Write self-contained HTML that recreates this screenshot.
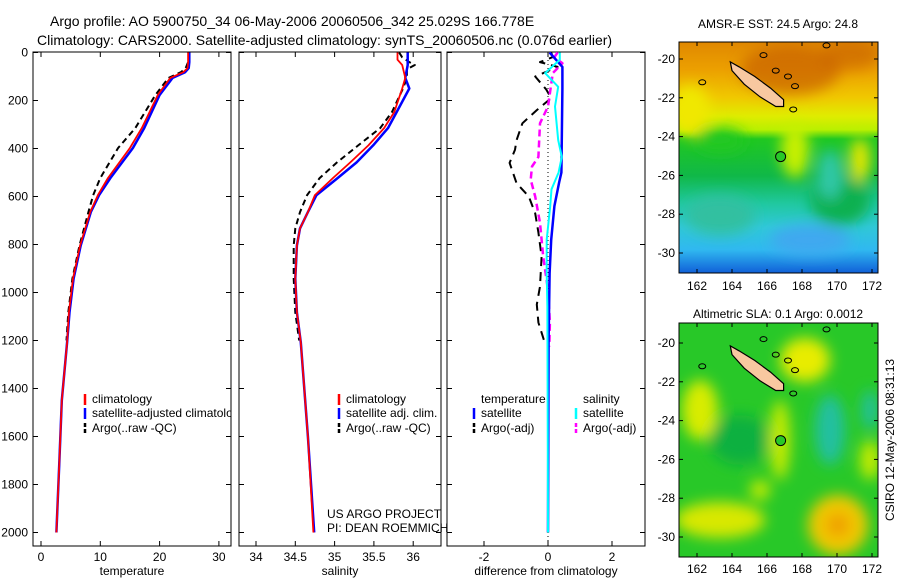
<!DOCTYPE html>
<html><head><meta charset="utf-8">
<style>
html,body{margin:0;padding:0;background:#fff;}
svg{display:block;font-family:"Liberation Sans",Arial,sans-serif;}
text{fill:#000;}
</style></head>
<body>
<svg id="chart" width="900" height="580" viewBox="0 0 900 580" xmlns="http://www.w3.org/2000/svg">
<defs>
 <clipPath id="c1"><rect x="33" y="52" width="198" height="494"/></clipPath>
 <clipPath id="c2"><rect x="239" y="52" width="202" height="494"/></clipPath>
 <clipPath id="c3"><rect x="447" y="52" width="198" height="494"/></clipPath>
 <clipPath id="m1"><rect x="679" y="42" width="199" height="231"/></clipPath>
 <clipPath id="m2"><rect x="679" y="323" width="199" height="234"/></clipPath>
 <filter id="blur" x="-50%" y="-50%" width="200%" height="200%"><feGaussianBlur stdDeviation="7"/></filter>
 <linearGradient id="sstg" x1="0" y1="0" x2="0" y2="1">
  <stop offset="0" stop-color="#e08800"/>
  <stop offset="0.12" stop-color="#eca000"/>
  <stop offset="0.24" stop-color="#f0c800"/>
  <stop offset="0.32" stop-color="#e0ec00"/>
  <stop offset="0.38" stop-color="#b8f000"/>
  <stop offset="0.42" stop-color="#20c820"/>
  <stop offset="0.58" stop-color="#10b848"/>
  <stop offset="0.7" stop-color="#20c8a0"/>
  <stop offset="0.8" stop-color="#30c8d8"/>
  <stop offset="0.9" stop-color="#30b8f0"/>
  <stop offset="1" stop-color="#1060d8"/>
 </linearGradient>
</defs>

<g>
 <text x="50" y="26" font-size="14">Argo profile: AO 5900750_34 06-May-2006 20060506_342 25.029S 166.778E</text>
 <text x="37" y="45" font-size="14">Climatology: CARS2000. Satellite-adjusted climatology: synTS_20060506.nc (0.076d earlier)</text>
</g>

<g id="axes"></g>
<g id="series"></g>

<g>
 <text x="778" y="28" font-size="12" text-anchor="middle">AMSR-E SST: 24.5 Argo: 24.8</text>
 <g clip-path="url(#m1)">
  <rect x="679" y="42" width="199" height="231" fill="url(#sstg)"/>
  <g filter="url(#blur)">
   <ellipse cx="790" cy="70" rx="50" ry="25" fill="#c86000" opacity="0.7"/>
   <ellipse cx="850" cy="55" rx="30" ry="15" fill="#c86000" opacity="0.6"/>
   <ellipse cx="690" cy="110" rx="20" ry="25" fill="#f0e800"/>
   <ellipse cx="795" cy="150" rx="14" ry="28" fill="#c8f000"/>
   <ellipse cx="860" cy="160" rx="10" ry="22" fill="#e8e800"/>
   <ellipse cx="720" cy="140" rx="25" ry="12" fill="#20c820"/>
   <ellipse cx="840" cy="200" rx="30" ry="25" fill="#10b050"/>
   <ellipse cx="720" cy="215" rx="35" ry="20" fill="#30c0a0"/>
   <ellipse cx="830" cy="175" rx="12" ry="25" fill="#30c8a8"/>
   <ellipse cx="810" cy="240" rx="40" ry="15" fill="#40a8f0"/>
  </g>
 </g>
 <rect x="679" y="42" width="199" height="231" fill="none" stroke="#000"/>
</g>

<g>
 <text x="778" y="318" font-size="12" text-anchor="middle">Altimetric SLA: 0.1 Argo: 0.0012</text>
 <g clip-path="url(#m2)">
  <rect x="679" y="323" width="199" height="234" fill="#28c828"/>
  <g filter="url(#blur)">
   <ellipse cx="805" cy="360" rx="25" ry="22" fill="#e8ec00"/>
   <ellipse cx="700" cy="410" rx="18" ry="30" fill="#d8ec00"/>
   <ellipse cx="780" cy="440" rx="10" ry="40" fill="#c8ec00"/>
   <ellipse cx="760" cy="490" rx="10" ry="10" fill="#c8ec00"/>
   <ellipse cx="720" cy="520" rx="45" ry="18" fill="#d8e800"/>
   <ellipse cx="838" cy="525" rx="30" ry="30" fill="#f0c800"/>
   <ellipse cx="838" cy="525" rx="12" ry="12" fill="#f0a000"/>
   <ellipse cx="830" cy="430" rx="15" ry="35" fill="#20c0a0"/>
   <ellipse cx="870" cy="410" rx="8" ry="20" fill="#20c0a0"/>
   <ellipse cx="740" cy="440" rx="30" ry="25" fill="#10b040"/>
   <ellipse cx="870" cy="460" rx="10" ry="20" fill="#c8ec00"/>
  </g>
 </g>
 <rect x="679" y="323" width="199" height="234" fill="none" stroke="#000"/>
 <text transform="translate(894,440) rotate(-90)" font-size="12" text-anchor="middle">CSIRO 12-May-2006 08:31:13</text>
</g>

<g id="maps"></g>

<script>
// ===== data =====
var depths = [0,40,65,82,106,177,315,398,523,594,665,804,942,1083,1208,1450,1700,2000];
var tempClim = [24.8,24.8,24.7,24.0,21.8,19.7,17.0,15.0,11.3,9.6,8.3,6.6,5.4,4.7,4.4,3.5,3.1,2.6];
var tempSat  = [25.0,25.0,24.9,24.3,22.2,20.0,17.4,15.5,11.7,9.8,8.4,6.7,5.5,4.8,4.4,3.5,3.1,2.6];
var argoDepths = [0,20,40,65,82,106,177,315,398,523,594,665,804,942,1083,1200];
var tempArgo = [24.9,24.9,24.8,24.4,23.6,21.5,19.3,15.9,13.0,10.0,8.8,8.0,6.5,5.3,4.6,4.3];

var salDepths = [0,30,52,106,150,248,315,387,458,523,594,665,733,804,942,1083,1208,1600,2000];
var salClim = [35.80,35.80,35.86,35.90,35.86,35.76,35.63,35.43,35.20,34.98,34.75,34.66,34.56,34.52,34.50,34.52,34.57,34.66,34.73];
var salSat  = [35.93,35.93,35.93,35.90,35.95,35.79,35.68,35.49,35.28,35.04,34.77,34.66,34.56,34.52,34.50,34.52,34.57,34.66,34.74];
var salArgoDepths = [0,20,40,52,70,106,150,248,315,387,458,523,594,665,733,804,942,1083,1200];
var salArgo = [35.82,35.86,35.95,36.02,35.92,35.92,35.87,35.73,35.58,35.30,35.03,34.81,34.65,34.56,34.50,34.48,34.48,34.50,34.55];

var diffDepths = [0,60,150,500,540,640,780,920,1200,2000];
var diffTempSat = [0.05,0.45,0.45,0.42,0.35,0.2,0.1,0.05,0.02,0];
var diffArgoDepths = [0,19,40,60,100,155,190,240,295,365,405,460,545,600,670,750,850,975,1050,1125,1210];
var diffTempArgo = [0.1,0.15,-0.25,0.3,-0.4,-0.05,0.1,-0.35,-0.8,-0.98,-1.03,-1.2,-0.98,-0.6,-0.4,-0.3,-0.2,-0.25,-0.35,-0.3,-0.1];
var diffSalArgoDepths = [0,19,45,86,225,295,435,475,530,600,710,850,990,1125,1225];
var diffSalArgo = [0.3,0.2,0.45,0.15,0,-0.25,-0.3,-0.5,-0.54,-0.4,-0.25,-0.15,0,0.06,0.04];
var diffSalSatDepths = [0,30,86,143,225,365,435,500,570,640,780,920,1060,2000];
var diffSalSat = [0.37,0.37,-0.09,0.32,0.22,0.32,0.43,0.33,0.11,0.07,-0.04,-0.04,-0.02,0];

var depthTicks = [0,200,400,600,800,1000,1200,1400,1600,1800,2000];
var tempTicks = [0,10,20,30];
var salTicks = [34,34.5,35,35.5,36];
var salTickLabels = ["34","34.5","35","35.5","36"];
var diffTicks = [-2,0,2];
var lonTicks = [162,164,166,168,170,172];
var latTicks = [20,22,24,26,28,30];
var argoLon = 166.778, argoLat = 25.029;

// ===== scales =====
var NS = "http://www.w3.org/2000/svg";
function yD(d){ return 52.5 + d*0.24; }
function xT(t){ return 41 + t*5.93; }
function xS(s){ return 256 + (s-34)*78.6; }
function xDf(v){ return 548 + v*32; }
function mx(lon){ return 697 + (lon-162)*17.5; }
function my1(lat){ return 59 + (lat-20)*19.4; }
function my2(lat){ return 343 + (lat-20)*19.4; }

function el(tag, attrs, parent, txt){
  var e = document.createElementNS(NS, tag);
  for (var k in attrs) e.setAttribute(k, attrs[k]);
  if (txt !== undefined) e.textContent = txt;
  parent.appendChild(e);
  return e;
}
var axes = document.getElementById('axes');
var series = document.getElementById('series');

function panel(name, x0, w, ticks, labels, xf, xlabel){
  var g = el('g', {}, axes);
  
  
  el('rect', {x:x0, y:52, width:w, height:494, fill:'#fff', stroke:'#000', 'stroke-width':1}, g);
  ticks.forEach(function(t,i){
    var x = xf(t);
    el('line', {x1:x, y1:52, x2:x, y2:57, stroke:'#000'}, g);
    el('line', {x1:x, y1:546, x2:x, y2:541, stroke:'#000'}, g);
    var tl = el('text', {x:x, y:561, 'font-size':12, 'text-anchor':'middle'}, g, labels[i]);
    
    
  });
  depthTicks.forEach(function(d){
    var y = yD(d);
    el('line', {x1:x0, y1:y, x2:x0+5, y2:y, stroke:'#000'}, g);
    el('line', {x1:x0+w, y1:y, x2:x0+w-5, y2:y, stroke:'#000'}, g);
  });
  var xl = el('text', {x:x0+w/2, y:575, 'font-size':12, 'text-anchor':'middle'}, g, xlabel);
  
  
}
panel('temperature-panel', 33, 198, tempTicks, tempTicks.map(String), xT, 'temperature');
panel('salinity-panel', 239, 202, salTicks, salTickLabels, xS, 'salinity');
panel('difference-panel', 447, 198, diffTicks, diffTicks.map(String), xDf, 'difference from climatology');

depthTicks.forEach(function(d){
  var t = el('text', {x:28, y:yD(d)+4, 'font-size':12, 'text-anchor':'end'}, axes, String(d));
  
  
});

var zl = el('line', {x1:xDf(0), y1:52, x2:xDf(0), y2:546, stroke:'#000', 'stroke-dasharray':'1,3'}, axes);



function line(name, xs, ds, xf, color, width, dash, clip){
  var pts = xs.map(function(v,i){ return xf(v).toFixed(1)+','+yD(ds[i]).toFixed(1); }).join(' ');
  var a = {points:pts, fill:'none', stroke:color, 'stroke-width':width, 'clip-path':'url(#'+clip+')', 'stroke-linejoin':'round'};
  if (dash) a['stroke-dasharray'] = dash;
  var p = el('polyline', a, series);
  
  
}
line('temp-argo-line', tempArgo, argoDepths, xT, '#000', 2, '6,4', 'c1');
line('temp-sat-line', tempSat, depths, xT, '#0000ff', 2.5, null, 'c1');
line('temp-clim-line', tempClim, depths, xT, '#ff0000', 1.8, null, 'c1');

line('sal-argo-line', salArgo, salArgoDepths, xS, '#000', 2, '6,4', 'c2');
line('sal-sat-line', salSat, salDepths, xS, '#0000ff', 2.5, null, 'c2');
line('sal-clim-line', salClim, salDepths, xS, '#ff0000', 1.8, null, 'c2');

line('diff-temp-argo-line', diffTempArgo, diffArgoDepths, xDf, '#000', 2, '9,6', 'c3');
line('diff-sal-argo-line', diffSalArgo, diffSalArgoDepths, xDf, '#ff00ff', 2.5, '7,4', 'c3');
line('diff-temp-sat-line', diffTempSat, diffDepths, xDf, '#0000ff', 2.5, null, 'c3');
line('diff-sal-sat-line', diffSalSat, diffSalSatDepths, xDf, '#00ffff', 2, null, 'c3');

function legendEntry(parent, x, y, color, dash, label){
  var g = el('g', {}, parent);
  
  
  var a = {x1:x, y1:y-9, x2:x, y2:y+2, stroke:color, 'stroke-width':2.5};
  if (dash) a['stroke-dasharray'] = '4,2';
  el('line', a, g);
  el('text', {x:x+7, y:y, 'font-size':12}, g, label);
}
var lg1 = el('g', {'clip-path':'url(#c1)'}, series);


legendEntry(lg1, 85, 403, '#ff0000', false, 'climatology');
legendEntry(lg1, 85, 417, '#0000ff', false, 'satellite-adjusted climatology');
legendEntry(lg1, 85, 432, '#000', true, 'Argo(..raw -QC)');

var lg2 = el('g', {}, series);


legendEntry(lg2, 339, 403, '#ff0000', false, 'climatology');
legendEntry(lg2, 339, 417, '#0000ff', false, 'satellite adj. clim.');
legendEntry(lg2, 339, 432, '#000', true, 'Argo(..raw -QC)');

var lg3 = el('g', {}, series);


el('text', {x:481, y:403, 'font-size':12}, lg3, 'temperature');
el('text', {x:583, y:403, 'font-size':12}, lg3, 'salinity');
legendEntry(lg3, 474, 417, '#0000ff', false, 'satellite');
legendEntry(lg3, 474, 432, '#000', true, 'Argo(-adj)');
legendEntry(lg3, 576, 417, '#00ffff', false, 'satellite');
legendEntry(lg3, 576, 432, '#ff00ff', true, 'Argo(-adj)');

var credit = el('g', {}, series);


el('text', {x:327, y:518, 'font-size':12}, credit, 'US ARGO PROJECT');
el('text', {x:327, y:532, 'font-size':12}, credit, 'PI: DEAN ROEMMICH');

var maps = document.getElementById('maps');
function mapDecor(name, yf, top, bottom, lonLabelY){
  var g = el('g', {}, maps);
  
  
  lonTicks.forEach(function(l){
    var x = mx(l);
    el('line', {x1:x, y1:bottom, x2:x, y2:bottom-4, stroke:'#000'}, g);
    el('line', {x1:x, y1:top, x2:x, y2:top+4, stroke:'#000'}, g);
    el('text', {x:x, y:lonLabelY, 'font-size':12, 'text-anchor':'middle'}, g, String(l));
  });
  latTicks.forEach(function(l){
    var y = yf(l);
    el('line', {x1:679, y1:y, x2:683, y2:y, stroke:'#000'}, g);
    el('line', {x1:878, y1:y, x2:874, y2:y, stroke:'#000'}, g);
    el('text', {x:675, y:y+4, 'font-size':12, 'text-anchor':'end'}, g, '-'+l);
  });
  var isl = [[163.9,20.15],[164.4,20.4],[165.3,20.9],[166.2,21.5],[166.95,22.1],[166.95,22.45],[166.5,22.45],[165.6,21.95],[164.7,21.3],[164.0,20.6]];
  var pts = isl.map(function(p){ return mx(p[0]).toFixed(1)+','+yf(p[1]).toFixed(1); }).join(' ');
  var ip = el('polygon', {points:pts, fill:'#f8c8a0', stroke:'#000', 'stroke-width':1.2}, g);
  
  
  var smalls = [[165.8,19.8],[166.5,20.6],[167.2,20.9],[167.6,21.4],[162.3,21.2],[167.5,22.6],[169.4,19.3]];
  smalls.forEach(function(s){
    el('ellipse', {cx:mx(s[0]), cy:yf(s[1]), rx:3.5, ry:2.5, fill:'none', stroke:'#000'}, g);
  });
  var c = el('circle', {cx:mx(argoLon), cy:yf(argoLat), r:5, fill:'#28c828', stroke:'#000'}, g);
  
  
}
mapDecor('sst-map-axes', my1, 42, 273, 290);
mapDecor('sla-map-axes', my2, 323, 557, 573);
</script>
</svg>
</body></html>
